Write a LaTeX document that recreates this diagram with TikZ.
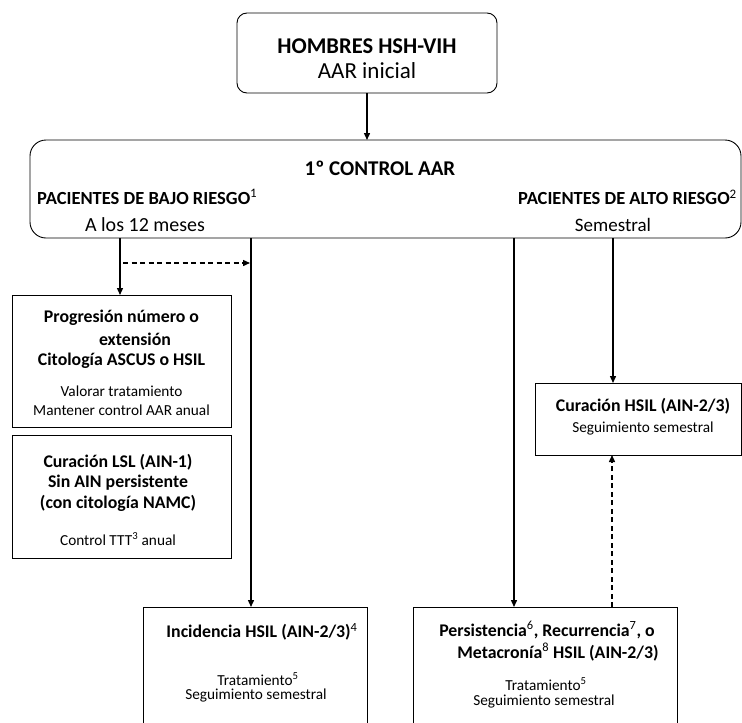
\documentclass[tikz,border=0pt]{standalone}
\usepackage{fontspec}
\setmainfont{Carlito}
\usetikzlibrary{arrows.meta}
\newcommand\myB[1]{\fontsize{#1}{#1}\selectfont\bfseries}
\newcommand\myR[1]{\fontsize{#1}{#1}\selectfont}
\newcommand\mysup[1]{{\normalfont\textsuperscript{#1}}}
\begin{document}
\begin{tikzpicture}[x=1pt,y=-1pt,
  box/.style={draw, line width=0.9pt, inner sep=0pt, outer sep=0pt},
  rbox/.style={box, rounded corners=#1},
  txt/.style={inner sep=0pt, align=center},
  conn/.style={line width=1.4pt, -{Triangle[length=7pt,width=6pt]}},
  dconn/.style={conn, dash pattern=on 5pt off 3.5pt}]
\clip (0,0) rectangle (742,723);
\fill[white] (0,0) rectangle (742,723);
% boxes
\node[rbox=10pt, minimum width=260pt, minimum height=80pt] (top) at (367,53) {};
\node[rbox=16pt, minimum width=711pt, minimum height=98pt] (big) at (385.5,189) {};
\node[box, minimum width=219pt, minimum height=132pt] (box1) at (121.5,361) {};
\node[box, minimum width=219pt, minimum height=123pt] (box2) at (121.5,496.5) {};
\node[box, minimum width=206pt, minimum height=72pt] (hsil) at (638,419) {};
\node[box, minimum width=224pt, minimum height=133pt] (inc) at (255,673.5) {};
\node[box, minimum width=264pt, minimum height=133pt] (per) at (545,673.5) {};
% texts
\node[txt] (t1) at (367,46) {\myB{22.5}HOMBRES HSH-VIH};
\node[txt] (t2) at (367,71) {\myR{23}AAR inicial};
\node[txt] (c1) at (380,168) {\myB{21}1º CONTROL AAR};
\node[txt, anchor=west] (c2) at (37,197) {\myB{18.5}PACIENTES DE BAJO RIESGO\mysup{1}};
\node[txt] (c3) at (145,225) {\myR{20}A los 12 meses};
\node[txt, anchor=east] (c4) at (737,197) {\myB{18.5}PACIENTES DE ALTO RIESGO\mysup{2}};
\node[txt] (c5) at (613,225) {\myR{19}Semestral};
\node[txt] (b1a) at (121.5,318) {\myB{17.8}Progresión número o};
\node[txt] (b1b) at (135,339) {\myB{17.8}extensión};
\node[txt] (b1c) at (121.5,361) {\myB{17.8}Citología ASCUS o HSIL};
\node[txt] (b1d) at (121.5,391) {\myR{15.3}Valorar tratamiento};
\node[txt] (b1e) at (121.5,410) {\myR{15.3}Mantener control AAR anual};
\node[txt] (b2a) at (118,462) {\myB{17.8}Curación LSL (AIN-1)};
\node[txt] (b2b) at (118,483) {\myB{17.8}Sin AIN persistente};
\node[txt] (b2c) at (118,503) {\myB{17.8}(con citología NAMC)};
\node[txt] (b2d) at (118,539) {\myR{15.3}Control TTT\mysup{3} anual};
\node[txt] (h1) at (643,406) {\myB{17.8}Curación HSIL (AIN-2/3)};
\node[txt] (h2) at (643,428) {\myR{15.3}Seguimiento semestral};
\node[txt] (i1) at (262,632) {\myB{17.8}Incidencia HSIL (AIN-2/3)\mysup{4}};
\node[txt] (i2) at (258,679) {\myR{15.3}Tratamiento\mysup{5}};
\node[txt] (i3) at (256,695) {\myR{15.3}Seguimiento semestral};
\node[txt] (p1) at (547,630) {\myB{17.8}Persistencia\mysup{6}, Recurrencia\mysup{7}, o};
\node[txt] (p2) at (558,652) {\myB{17.8}Metacronía\mysup{8} HSIL (AIN-2/3)};
\node[txt] (p3) at (546,684) {\myR{15.3}Tratamiento\mysup{5}};
\node[txt] (p4) at (544,701) {\myR{15.3}Seguimiento semestral};
% connector guide coordinates
\coordinate (xA) at (120,0);
\coordinate (xB) at (251,0);
\coordinate (xC) at (514,0);
\coordinate (xD) at (613,0);
\coordinate (xE) at (612,0);
\coordinate (dS) at (123,263);
\coordinate (dE) at (250,263);
% connectors
\draw[conn] (top.south) -- (top.south |- big.north);
\draw[conn] (big.south -| xA) -- (box1.north -| xA);
\draw[dconn] (dS) -- (dE);
\draw[conn] (big.south -| xB) -- (inc.north -| xB);
\draw[conn] (big.south -| xC) -- (per.north -| xC);
\draw[conn] (big.south -| xD) -- (hsil.north -| xD);
\draw[dconn] (per.north -| xE) -- (hsil.south -| xE);
\end{tikzpicture}
\end{document}
